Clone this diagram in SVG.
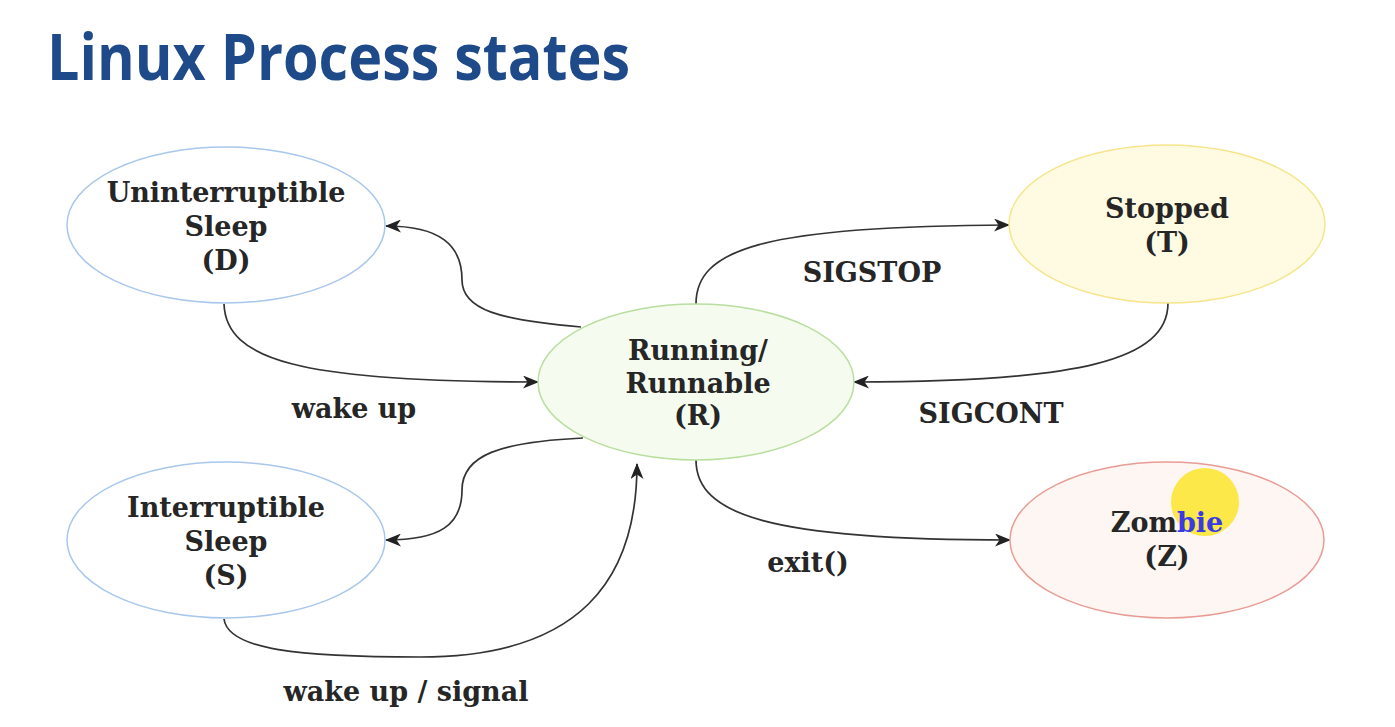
<svg xmlns="http://www.w3.org/2000/svg" width="1395" height="727" viewBox="0 0 1395 727">
<defs>
<style>
.title{font-family:"Open Sans","Liberation Sans",sans-serif;font-weight:700;font-size:64px;fill:#1f4a8a}
.t{font-family:"DejaVu Serif","Liberation Serif",serif;font-weight:700;font-size:27px;fill:#262626;text-anchor:middle}
.edge{fill:none;stroke:#333;stroke-width:1.7}
.blue{fill:#ffffff;stroke:#a9c7ec;stroke-width:1.5}
</style>
<marker id="arr" viewBox="0 0 16 13" refX="15" refY="6.5" markerWidth="16" markerHeight="13" markerUnits="userSpaceOnUse" orient="auto">
<path d="M0,0 L16,6.5 L0,13 L4.5,6.5 Z" fill="#222"/>
</marker>
</defs>
<rect width="1395" height="727" fill="#ffffff"/>
<text class="title" x="47" y="80" textLength="583" lengthAdjust="spacingAndGlyphs">Linux Process states</text>

<g id="connectors">
<path class="edge" d="M581,327 C500,320 462,310 462,280 C462,245 440,226 386,226" marker-end="url(#arr)"/>
<path class="edge" d="M224,304 C226,360 300,382 538,382" marker-end="url(#arr)"/>
<path class="edge" d="M583,438 C500,442 462,455 462,490 C462,525 440,540 386,540" marker-end="url(#arr)"/>
<path class="edge" d="M224,619 C228,650 300,657 420,657 C580,657 637,580 637,464" marker-end="url(#arr)"/>
<path class="edge" d="M696,304 C696,250 760,226 1009,225" marker-end="url(#arr)"/>
<path class="edge" d="M1168,303 C1168,360 1080,382 854,382" marker-end="url(#arr)"/>
<path class="edge" d="M696,460 C696,515 770,540 1010,540" marker-end="url(#arr)"/>
<text class="t" x="872" y="282">SIGSTOP</text>
<text class="t" x="354" y="418">wake up</text>
<text class="t" x="991" y="423">SIGCONT</text>
<text class="t" x="808" y="572">exit()</text>
<text class="t" x="406" y="701">wake up / signal</text>
</g>

<g id="node-D">
<ellipse class="blue" cx="226" cy="225" rx="159" ry="78"/>
<text class="t" x="226" y="202">Uninterruptible</text>
<text class="t" x="226" y="236">Sleep</text>
<text class="t" x="226" y="270">(D)</text>
</g>
<g id="node-S">
<ellipse class="blue" cx="226" cy="540" rx="159" ry="78"/>
<text class="t" x="226" y="517">Interruptible</text>
<text class="t" x="226" y="551">Sleep</text>
<text class="t" x="226" y="585">(S)</text>
</g>
<g id="node-R">
<ellipse cx="696" cy="382" rx="158" ry="78" fill="#f5fbee" stroke="#b9de9f" stroke-width="1.5"/>
<text class="t" x="698" y="360">Running/</text>
<text class="t" x="698" y="393">Runnable</text>
<text class="t" x="698" y="425">(R)</text>
</g>
<g id="node-T">
<ellipse cx="1167" cy="224" rx="158" ry="79" fill="#fffbe2" stroke="#f6e58c" stroke-width="1.5"/>
<text class="t" x="1167" y="218">Stopped</text>
<text class="t" x="1167" y="252">(T)</text>
</g>
<g id="node-Z">
<ellipse cx="1167" cy="540" rx="157" ry="78" fill="#fdf6f2" stroke="#e99c95" stroke-width="1.5"/>
<circle cx="1205" cy="502" r="34" fill="#fde84a"/>
<text class="t" x="1167" y="532">Zom<tspan fill="#3a3ae6">bie</tspan></text>
<text class="t" x="1167" y="566">(Z)</text>
</g>
</svg>
